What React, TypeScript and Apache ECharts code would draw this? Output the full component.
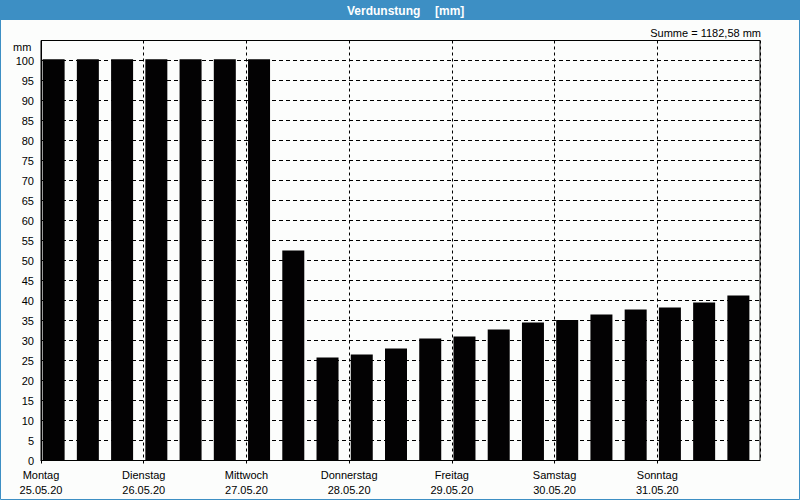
import React, { useEffect, useRef } from "react";
import * as echarts from "echarts";

const days = ["Montag", "Dienstag", "Mittwoch", "Donnerstag", "Freitag", "Samstag", "Sonntag"];
const dates = ["25.05.20", "26.05.20", "27.05.20", "28.05.20", "29.05.20", "30.05.20", "31.05.20"];
const slots = ["00:00", "08:00", "16:00"];
const values = [
  100.3, 100.3, 100.3, 100.3, 100.3, 100.3, 100.3,
  52.5, 25.75, 26.5, 28, 30.5, 31, 32.75, 34.5, 35.1,
  36.5, 37.75, 38.25, 39.5, 41.25,
];
const yTicks = [0, 5, 10, 15, 20, 25, 30, 35, 40, 45, 50, 55, 60, 65, 70, 75, 80, 85, 90, 95, 100];
const titleMain = "Verdunstung";
const titleUnit = "[mm]";
const unit = "mm";
const total = "1182,58";

const FONT = "'Liberation Sans', Arial, sans-serif";
const BLUE = "#3d8fc4";

export default function App() {
  const ref = useRef<HTMLDivElement>(null);
  useEffect(() => {
    document.body.style.margin = "0";
    const chart = echarts.init(ref.current!, null, { renderer: "svg" });
    const categories: string[] = [];
    dates.forEach((d) => slots.forEach((s) => categories.push(d + " " + s)));
    const yMax = 105;
    chart.setOption({
      animation: false,
      backgroundColor: "#fcfdfc",
      textStyle: { fontFamily: FONT },
      grid: [
        {
          left: 41, top: 40.5, width: 719, height: 420,
          show: true, borderColor: "#000", borderWidth: 1,
          backgroundColor: "transparent",
        },
        { left: 36.5, top: 40.5, width: 719, height: 420, show: false },
      ],
      xAxis: [
        {
          type: "value", gridIndex: 0, min: 0, max: days.length, interval: 1,
          axisLine: { show: true, lineStyle: { color: "#000", width: 1 } },
          axisTick: { show: true, length: 3, lineStyle: { color: "#000" } },
          splitLine: { show: true, lineStyle: { color: "#000", type: [3, 3], width: 1 } },
          axisLabel: {
            showMaxLabel: false,
            color: "#000", fontSize: 11, fontFamily: FONT, margin: 7, lineHeight: 15,
            formatter: (v: number) => (v < days.length ? days[v] + "\n" + dates[v] : ""),
          },
        },
        {
          type: "category", gridIndex: 1, data: categories,
          axisLine: { show: false }, axisTick: { show: false },
          axisLabel: { show: false }, splitLine: { show: false },
        },
      ],
      yAxis: [
        {
          type: "value", gridIndex: 0, min: 0, max: yMax, interval: 5,
          axisLine: { show: true, lineStyle: { color: "#000", width: 1 } },
          axisTick: { show: false },
          splitLine: { show: true, lineStyle: { color: "#000", type: [4, 3], width: 1 } },
          axisLabel: {
            color: "#000", fontSize: 11, fontFamily: FONT, margin: 7,
            formatter: (v: number) => (yTicks.indexOf(v) >= 0 ? String(v) : ""),
          },
        },
        {
          type: "value", gridIndex: 1, min: 0, max: yMax,
          axisLine: { show: false }, axisTick: { show: false },
          axisLabel: { show: false }, splitLine: { show: false },
        },
      ],
      series: [
        {
          type: "bar", xAxisIndex: 1, yAxisIndex: 1, data: values,
          barWidth: 22, itemStyle: { color: "#030203" }, z: 5,
        },
      ],
      graphic: [
        { type: "rect", shape: { x: 0, y: 0, width: 800, height: 20 }, style: { fill: BLUE }, z: 10 },
        {
          type: "rect", shape: { x: 0.5, y: 0.5, width: 799, height: 499 },
          style: { fill: "none", stroke: BLUE, lineWidth: 1 }, z: 10,
        },
        {
          type: "text", x: 347, y: 10.5, z: 11,
          style: { text: titleMain, fill: "#fff", font: `bold 12px ${FONT}`, textAlign: "left", textVerticalAlign: "middle" },
        },
        {
          type: "text", x: 435, y: 10.5, z: 11,
          style: { text: titleUnit, fill: "#fff", font: `bold 12px ${FONT}`, textAlign: "left", textVerticalAlign: "middle" },
        },
        {
          type: "text", x: 761, y: 32.5, z: 11,
          style: { text: "Summe = " + total + " " + unit, fill: "#000", font: `11px ${FONT}`, textAlign: "right", textVerticalAlign: "middle" },
        },
        {
          type: "text", x: 13, y: 46.5, z: 11,
          style: { text: unit, fill: "#000", font: `11px ${FONT}`, textAlign: "left", textVerticalAlign: "middle" },
        },
      ],
    });
    return () => chart.dispose();
  }, []);
  return <div ref={ref} style={{ width: 800, height: 500 }} />;
}
